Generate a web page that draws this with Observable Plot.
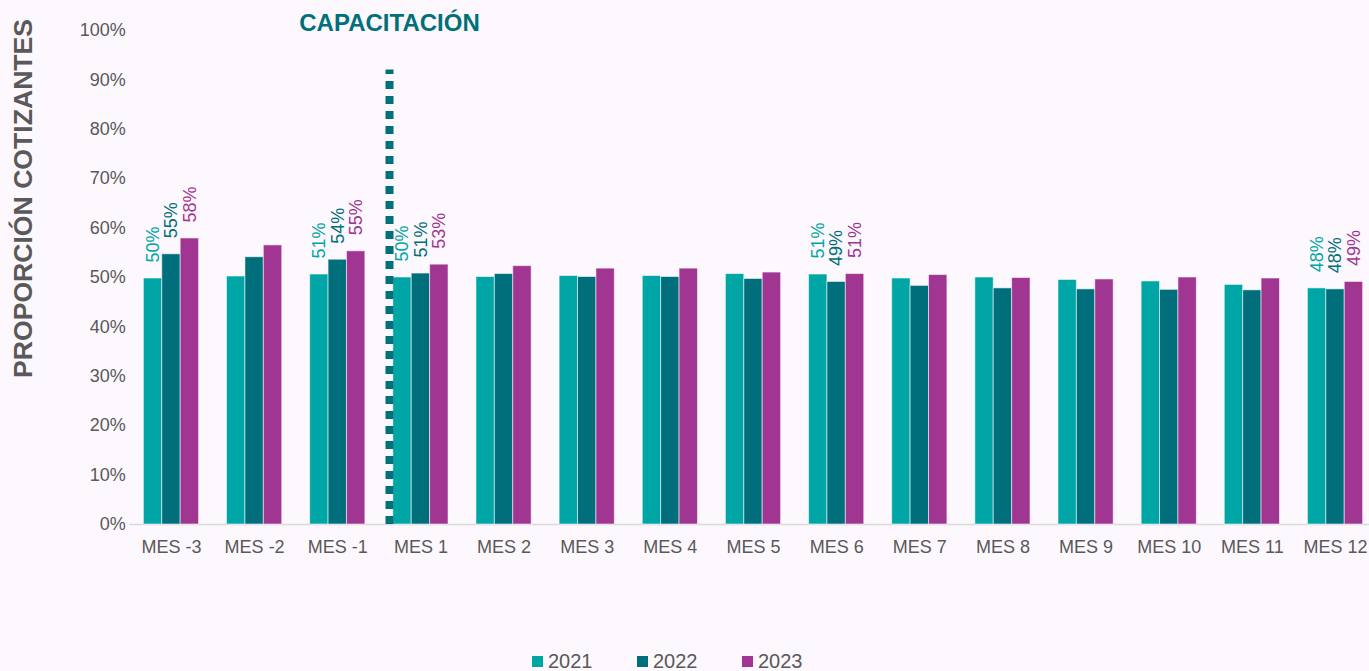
<!DOCTYPE html>
<html>
<head>
<meta charset="utf-8">
<script src="https://cdn.jsdelivr.net/npm/d3@7"></script>
<script src="https://cdn.jsdelivr.net/npm/@observablehq/plot@0.6"></script>
<style>
  html, body { margin: 0; padding: 0; background: #fdf8fd; overflow: hidden; }
  #legend { position: relative; width: 1369px; height: 31px; font-family: "Liberation Sans", Arial, sans-serif; color: #595959; }
  #legend .sw { position: absolute; width: 11px; height: 11px; top: 16px; }
  #legend .lb { position: absolute; top: 11px; font-size: 20px; line-height: 20px; }
</style>
</head>
<body>
<div id="chart"></div>
<div id="legend"></div>
<script>
const months = ["MES -3","MES -2","MES -1","MES 1","MES 2","MES 3","MES 4","MES 5","MES 6","MES 7","MES 8","MES 9","MES 10","MES 11","MES 12"];
const years = ["2021","2022","2023"];
const v2021 = [49.8,50.2,50.6,50.0,50.1,50.3,50.3,50.7,50.6,49.8,50.0,49.5,49.2,48.5,47.8];
const v2022 = [54.7,54.1,53.6,50.8,50.7,50.1,50.1,49.7,49.1,48.3,47.8,47.6,47.5,47.4,47.6];
const v2023 = [57.9,56.5,55.3,52.6,52.3,51.8,51.8,51.0,50.7,50.5,49.9,49.6,50.0,49.8,49.1];
const labeledMonths = ["MES -3","MES -1","MES 1","MES 6","MES 12"];
const colors = ["#00a6a6","#006f7b","#a13592"];
const yTicks = [0,10,20,30,40,50,60,70,80,90,100];
const trainingMonth = "MES 1";
const trainingLabel = "CAPACITACIÓN";
const trainingTop = 92;
const yTitle = "PROPORCIÓN COTIZANTES";

const series = [v2021, v2022, v2023];
const data = months.flatMap((m, i) => years.map((y, j) => ({month: m, year: y, value: series[j][i]})));

const chart = Plot.plot({
  width: 1369,
  height: 640,
  marginLeft: 129.4,
  marginRight: -7.6,
  marginTop: 30,
  marginBottom: 116,
  style: {background: "#fdf8fd", fontFamily: "Liberation Sans, Arial, sans-serif", fontSize: "18px", color: "#595959", overflow: "visible"},
  fx: {domain: months, paddingInner: 0.336, paddingOuter: 0.168, round: false, axis: "bottom", tickSize: 0, tickPadding: 16, label: null},
  x: {domain: years, axis: null, padding: 0, round: false},
  y: {domain: [0, 100], ticks: yTicks, tickFormat: d => d + "%", tickSize: 0, tickPadding: 18, label: null},
  color: {domain: years, range: colors},
  marks: [
    Plot.ruleY([0], {stroke: "#d9d9d9", strokeWidth: 1.5, insetLeft: -14, insetRight: -14}),
    Plot.barY(data, {fx: "month", x: "year", y: "value", fill: "year", stroke: "#ffffff", strokeOpacity: 0.55, strokeWidth: 1}),
    Plot.text(data.filter(d => labeledMonths.includes(d.month)), {
      fx: "month", x: "year", y: "value", text: d => Math.round(d.value) + "%",
      fill: "year", rotate: -90, textAnchor: "start", dy: -16, fontSize: 18
    }),
    Plot.ruleX([{month: trainingMonth, year: years[0]}], {
      fx: "month", x: "year", y1: () => 0, y2: () => trainingTop,
      stroke: "#00707a", strokeWidth: 8, strokeDasharray: "8 7", dx: -13
    }),
    Plot.text([{month: trainingMonth, year: years[0], label: trainingLabel}], {
      fx: "month", x: "year", y: () => 101.4, text: "label", dx: -13,
      fill: "#00707a", fontWeight: "bold", fontSize: 24
    }),
    Plot.text([{month: months[0], label: yTitle}], {
      fx: "month", frameAnchor: "left", y: () => 66.0, text: "label", rotate: -90, dx: -120,
      textAnchor: "middle", fontWeight: "bold", fontSize: 26.6, fill: "#595959"
    })
  ]
});
document.getElementById("chart").appendChild(chart);

const legend = document.getElementById("legend");
const legendLeft = [532, 637, 742];
years.forEach((y, i) => {
  const sw = document.createElement("div");
  sw.className = "sw";
  sw.style.left = legendLeft[i] + "px";
  sw.style.background = colors[i];
  legend.appendChild(sw);
  const lb = document.createElement("div");
  lb.className = "lb";
  lb.style.left = (legendLeft[i] + 16) + "px";
  lb.textContent = y;
  legend.appendChild(lb);
});
</script>
</body>
</html>
